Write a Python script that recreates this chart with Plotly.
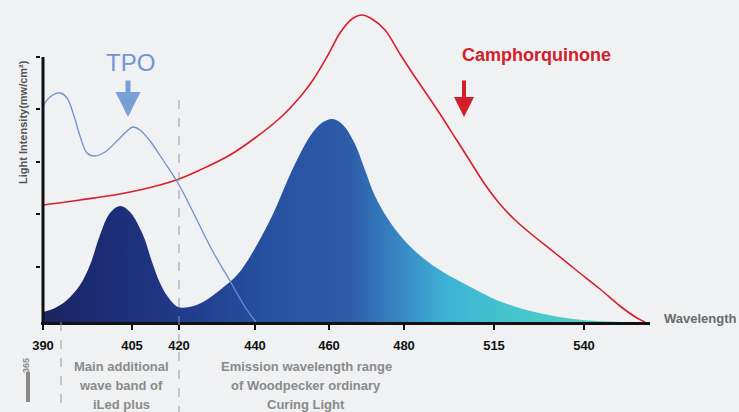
import plotly.graph_objects as go

# ---- data (x in chart position units along the wavelength axis, y = relative intensity) ----
tick_labels = ["390", "405", "420", "440", "460", "480", "515", "540"]
tick_pos = [0, 89, 136, 212, 286, 361, 451, 541]
y_ticks = [55, 108, 160, 213, 265]

emission_x = [0, 12, 24, 37, 47, 57, 67, 77, 87, 100, 109, 117, 125, 135, 146, 160, 177, 195,
              211, 230, 246, 258, 270, 280, 290, 300, 312, 322, 332, 345, 361, 380, 400, 418, 437,
              456, 480, 506, 530, 555, 580]
emission_y = [10, 14, 22, 37, 57, 87, 109, 116, 110, 87, 60, 39, 25, 15, 15, 20, 32, 48,
              72, 108, 145, 170, 190, 200, 203, 197, 178, 152, 126, 103, 82, 64, 50, 40, 30,
              21, 13, 7, 3, 1, 0]

cq_x = [0, 37, 77, 117, 136, 157, 187, 212, 237, 257, 270, 285, 297, 309, 319, 329, 342, 357,
        370, 385, 399, 413, 427, 441, 456, 471, 487, 512, 533, 557, 577, 594, 602]
cq_y = [117, 122, 128, 137, 143, 152, 167, 184, 204, 225, 242, 267, 289, 303, 307, 303, 292, 268,
        248, 226, 205, 183, 161, 139, 119, 103, 89, 69, 52, 33, 16, 4, 0]

tpo_x = [0, 7, 17, 24, 31, 37, 44, 52, 62, 75, 84, 90, 97, 107, 120, 135, 152, 169, 187, 202, 213]
tpo_y = [216, 225, 229, 224, 206, 186, 169, 166, 170, 182, 191, 195, 192, 181, 162, 139, 106, 72, 41, 15, 0]

X_MIN, X_MAX = -2, 607
Y_MIN, Y_MAX = 0, 322


def px(x):
    return (x - X_MIN) / (X_MAX - X_MIN)


def py(y):
    return (y - Y_MIN) / (Y_MAX - Y_MIN)


fig = go.Figure()

fig.add_trace(go.Scatter(
    x=emission_x, y=emission_y, mode="lines", fill="tozeroy",
    line=dict(width=0, color="#2a4fa0", shape="spline"),
    fillgradient=dict(type="horizontal", colorscale=[
        [0.0, "#1a2460"], [0.13, "#1d2e78"], [0.24, "#213a8a"], [0.38, "#2750a0"],
        [0.53, "#2d5ca9"], [0.62, "#388ac6"], [0.7, "#3fb4d5"], [0.82, "#45c6cc"],
        [1.0, "#5fd0c0"]]),
    hoverinfo="skip", showlegend=False))

fig.add_trace(go.Scatter(
    x=cq_x, y=cq_y, mode="lines", line=dict(color="#d81f2a", width=1.6, shape="spline"),
    showlegend=False))

fig.add_trace(go.Scatter(
    x=tpo_x, y=tpo_y, mode="lines", line=dict(color="#6f8fcf", width=1.3, shape="spline"),
    showlegend=False))

shapes = [
    # y axis line
    dict(type="line", xref="x", yref="y", x0=0, x1=0, y0=0, y1=265,
         line=dict(color="#111111", width=3)),
    # dashed guides
    dict(type="line", xref="paper", yref="paper", x0=px(18), x1=px(18), y0=py(0), y1=py(-95),
         line=dict(color="#999999", width=1, dash="dash")),
    dict(type="line", xref="paper", yref="paper", x0=px(136), x1=px(136), y0=py(222), y1=py(-95),
         line=dict(color="#999999", width=1, dash="dash")),
    # small marker at far left below axis
    dict(type="line", xref="paper", yref="paper", x0=px(-15), x1=px(-15), y0=py(-50), y1=py(-80),
         line=dict(color="#8a8a8a", width=4)),
]

FONT = "Liberation Sans, Arial"
bottom_font = dict(family=FONT, size=13, color="#8a8a8a")


def note(text, x, y, font, xanchor="center", **kw):
    return dict(text=text, x=px(x), y=py(y), xref="paper", yref="paper",
                xanchor=xanchor, yanchor="middle", showarrow=False, font=font, **kw)


annotations = [
    note("TPO", 87, 259, dict(family=FONT, size=24, color="#7393d3")),
    dict(text="", x=85, y=205, xref="x", yref="y", ax=0, ay=-38, showarrow=True,
         arrowhead=2, arrowsize=1, arrowwidth=5, arrowcolor="#7a9fd6"),
    note("<b>Camphorquinone</b>", 493, 267, dict(family=FONT, size=18, color="#d0202a")),
    dict(text="", x=421, y=205, xref="x", yref="y", ax=0, ay=-38, showarrow=True,
         arrowhead=2, arrowsize=1, arrowwidth=4, arrowcolor="#d0202a"),
    note("<b>Wavelength</b>", 619, 4, dict(family=FONT, size=13, color="#6a6a6a"), xanchor="left"),
    note("<b>Light Intensity(mw/cm²)</b>", -20, 200, dict(family=FONT, size=11, color="#555555"),
         textangle=-90),
    note("<b>365</b>", -17, -44, dict(family=FONT, size=9, color="#8a8a8a"), textangle=-90),
    note("<b>Main additional</b>", 78, -44, bottom_font),
    note("<b>wave band of</b>", 78, -63, bottom_font),
    note("<b>iLed plus</b>", 78, -82, bottom_font),
    note("<b>Emission wavelength range</b>", 263, -44, bottom_font),
    note("<b>of Woodpecker ordinary</b>", 263, -63, bottom_font),
    note("<b>Curing Light</b>", 263, -82, bottom_font),
]

fig.update_layout(
    width=739, height=412, autosize=False,
    margin=dict(l=41, r=89, t=0, b=90),
    paper_bgcolor="#eff1f3", plot_bgcolor="#eff1f3",
    shapes=shapes, annotations=annotations, showlegend=False,
    xaxis=dict(range=[X_MIN, X_MAX], showgrid=False, zeroline=False,
               showline=True, linecolor="#111111", linewidth=3,
               tickmode="array", tickvals=tick_pos, ticktext=tick_labels,
               ticks="outside", ticklen=5, tickwidth=2, tickcolor="#111111",
               ticklabelstandoff=4,
               tickfont=dict(family=FONT, size=13, color="#111111", weight="bold")),
    yaxis=dict(range=[Y_MIN, Y_MAX], showgrid=False, zeroline=False, showline=False,
               tickmode="array", tickvals=y_ticks, ticktext=[""] * len(y_ticks),
               ticks="outside", ticklen=4, tickwidth=2, tickcolor="#111111"),
)

fig.write_html(
    "out.html",
    config={"displayModeBar": False},
    post_script="document.body.style.margin='0';document.documentElement.style.overflow='hidden';"
                "document.body.style.background='#eff1f3';",
)
